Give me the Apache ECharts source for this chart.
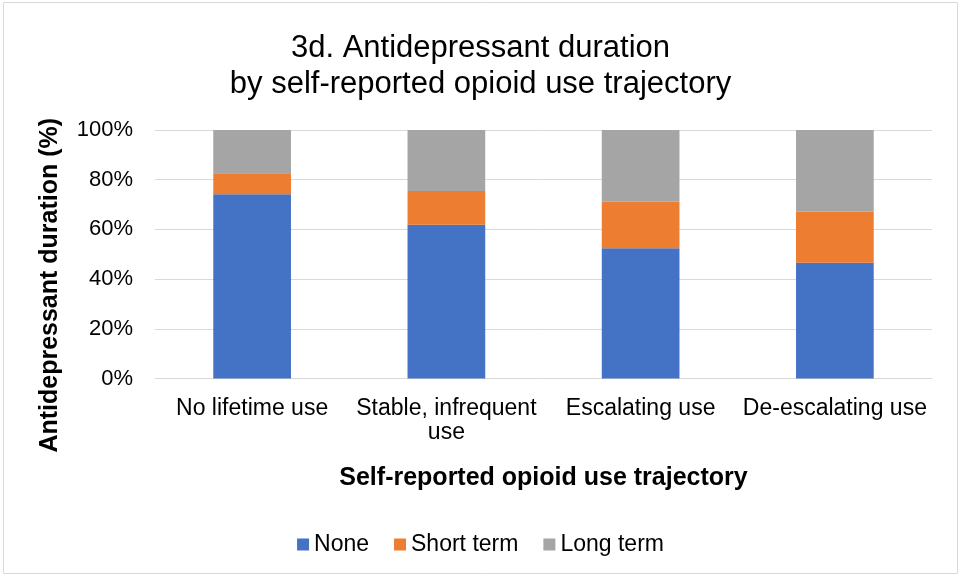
<!DOCTYPE html>
<html><head><meta charset="utf-8">
<script src="https://cdn.jsdelivr.net/npm/echarts@6/dist/echarts.min.js"></script>
<style>html,body{margin:0;padding:0;background:#fff}#c{width:961px;height:576px}</style>
</head><body><div id="c"></div>
<script>
const categories = ['No lifetime use', 'Stable, infrequent\nuse', 'Escalating use', 'De-escalating use'];
const noneVals = [74.1, 61.9, 52.4, 46.6];
const shortVals = [8.5, 13.6, 18.7, 20.5];
const longVals = [17.4, 24.5, 28.9, 32.9];
const yTicks = [0, 20, 40, 60, 80, 100];

const chart = echarts.init(document.getElementById('c'));
const font = 'Liberation Sans, Arial, sans-serif';
chart.setOption({
  animation: false,
  textStyle: { fontFamily: font },
  graphic: [{
    type: 'rect', silent: true, z: -10,
    shape: { x: 3.5, y: 2.5, width: 954, height: 571 },
    style: { fill: 'none', stroke: '#d9d9d9', lineWidth: 1 }
  }],
  title: {
    text: '3d. Antidepressant duration\nby self-reported opioid use trajectory',
    left: 'center', top: 25,
    textStyle: { fontSize: 31, fontWeight: 'normal', color: '#000', lineHeight: 36, fontFamily: font }
  },
  legend: {
    top: 528, left: 'center', itemWidth: 12, itemHeight: 12, itemGap: 25,
    icon: 'rect',
    textStyle: { fontSize: 23, color: '#000', fontFamily: font },
    data: ['None', 'Short term', 'Long term']
  },
  grid: { left: 155, right: 29, top: 130, bottom: 197.5 },
  xAxis: {
    type: 'category', data: categories,
    name: 'Self-reported opioid use trajectory', nameLocation: 'middle', nameGap: 87,
    nameTextStyle: { fontSize: 25, fontWeight: 'bold', color: '#000', fontFamily: font },
    axisLine: { lineStyle: { color: '#d9d9d9' } },
    axisTick: { show: false },
    axisLabel: { fontSize: 23, color: '#000', margin: 18, lineHeight: 24, interval: 0, fontFamily: font }
  },
  yAxis: {
    type: 'value', min: 0, max: 100, interval: 20,
    name: 'Antidepressant duration (%)', nameLocation: 'middle', nameGap: 92,
    nameTextStyle: { fontSize: 25, fontWeight: 'bold', color: '#000', fontFamily: font, padding: [0, 62, 0, 0] },
    axisLabel: { fontSize: 22, color: '#000', margin: 22, fontFamily: font,
      formatter: v => yTicks.includes(v) ? v + '%' : '' },
    splitLine: { lineStyle: { color: '#d9d9d9' } },
    axisLine: { show: false }, axisTick: { show: false }
  },
  series: [
    { name: 'None', type: 'bar', stack: 't', data: noneVals, barWidth: '40%', itemStyle: { color: '#4472c4' } },
    { name: 'Short term', type: 'bar', stack: 't', data: shortVals, barWidth: '40%', itemStyle: { color: '#ed7d31' } },
    { name: 'Long term', type: 'bar', stack: 't', data: longVals, barWidth: '40%', itemStyle: { color: '#a5a5a5' } }
  ]
});
</script></body></html>
